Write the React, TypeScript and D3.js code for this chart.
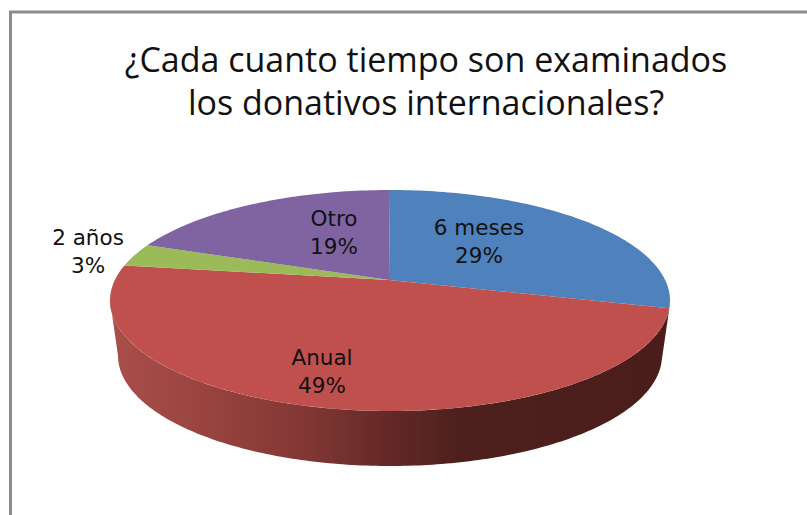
import React from "react";
import * as d3 from "d3";

const titleLines = ["¿Cada cuanto tiempo son examinados", "los donativos internacionales?"];
const categories = ["6 meses", "Anual", "2 años", "Otro"];
const percents = [29, 49, 3, 19];
const colors = ["#4f81bd", "#c0504d", "#9bbb59", "#8064a2"];
// Label anchors as [x, y] in page pixels
const labelX = [479, 322, 88, 334];
const labelY = [235, 365, 245, 226];
// Distorted projection of the tilted pie: cumulative percent -> angle round the ellipse
const cumulativeStops = [0, 29, 78, 81, 100];
const ellipseAngles = [0, 94, 288.5, 300, 360];
const sideStops: [number, string][] = [
  [0, "#a94f4a"], [0.16, "#9a4440"], [0.36, "#803633"], [0.5, "#632926"], [0.62, "#4e201d"], [1, "#4a1d1b"],
];

const W = 807, H = 515;
const cx = 390, cy = 300.5, rx = 280, ry = 110.5, depth = 55, bottomRx = 272;
const hubX = 389, hubY = 280;

const angle = d3.scaleLinear().domain(cumulativeStops).range(ellipseAngles);
const rad = (a: number) => (a * Math.PI) / 180;
const ex = (a: number, r = rx) => cx + r * Math.sin(rad(a));
const ey = (a: number) => cy - ry * Math.cos(rad(a));
const line = d3.line<[number, number]>();
const sweep = (a0: number, a1: number) => {
  const n = Math.max(2, Math.ceil(Math.abs(a1 - a0)));
  return d3.range(n + 1).map((i) => a0 + ((a1 - a0) * i) / n);
};

export default function App() {
  const arcs = d3.pie<number>().sort(null)(percents).map((d, i) => {
    const tau = Math.PI * 2;
    return { i, a0: angle((d.startAngle / tau) * 100), a1: angle((d.endAngle / tau) * 100) };
  });
  const sideA0 = arcs[1].a0;
  const sideA1 = 270;
  const top = sweep(sideA0, sideA1).map((a) => [ex(a), ey(a)] as [number, number]);
  const bottom = sweep(sideA1, sideA0).map((a) => [ex(a, bottomRx), ey(a) + depth] as [number, number]);
  const font = "'Open Sans', 'Noto Sans', sans-serif";
  return (
    <svg width={W} height={H} style={{ position: "absolute", left: 0, top: 0, background: "#fff" }}>
      <defs>
        <linearGradient id="side" gradientUnits="userSpaceOnUse" x1={cx - rx} x2={cx + rx} y1={0} y2={0}>
          {sideStops.map(([o, c]) => <stop key={o} offset={o} stopColor={c} />)}
        </linearGradient>
      </defs>
      <path d={`M10.5,${H + 5}V12H${W + 5}`} fill="none" stroke="#8c8c8c" strokeWidth={3} />
      {titleLines.map((t, i) => (
        <text key={t} x={426} y={71.5 + i * 43.5} textAnchor="middle" fontFamily={font} fontSize={34} fill="#111">{t}</text>
      ))}
      <path d={line([...top, ...bottom])! + "Z"} fill="url(#side)" />
      {arcs.map(({ i, a0, a1 }) => (
        <path
          key={categories[i]}
          d={line([[hubX, hubY], ...sweep(a0, a1).map((a) => [ex(a), ey(a)] as [number, number])])! + "Z"}
          fill={colors[i]}
        />
      ))}
      {categories.map((c, i) => (
        <g key={c} fontFamily="'DejaVu Sans', sans-serif" fontSize={21.5} fill="#111" textAnchor="middle">
          <text x={labelX[i]} y={labelY[i]}>{c}</text>
          <text x={labelX[i]} y={labelY[i] + 28}>{percents[i]}%</text>
        </g>
      ))}
    </svg>
  );
}
